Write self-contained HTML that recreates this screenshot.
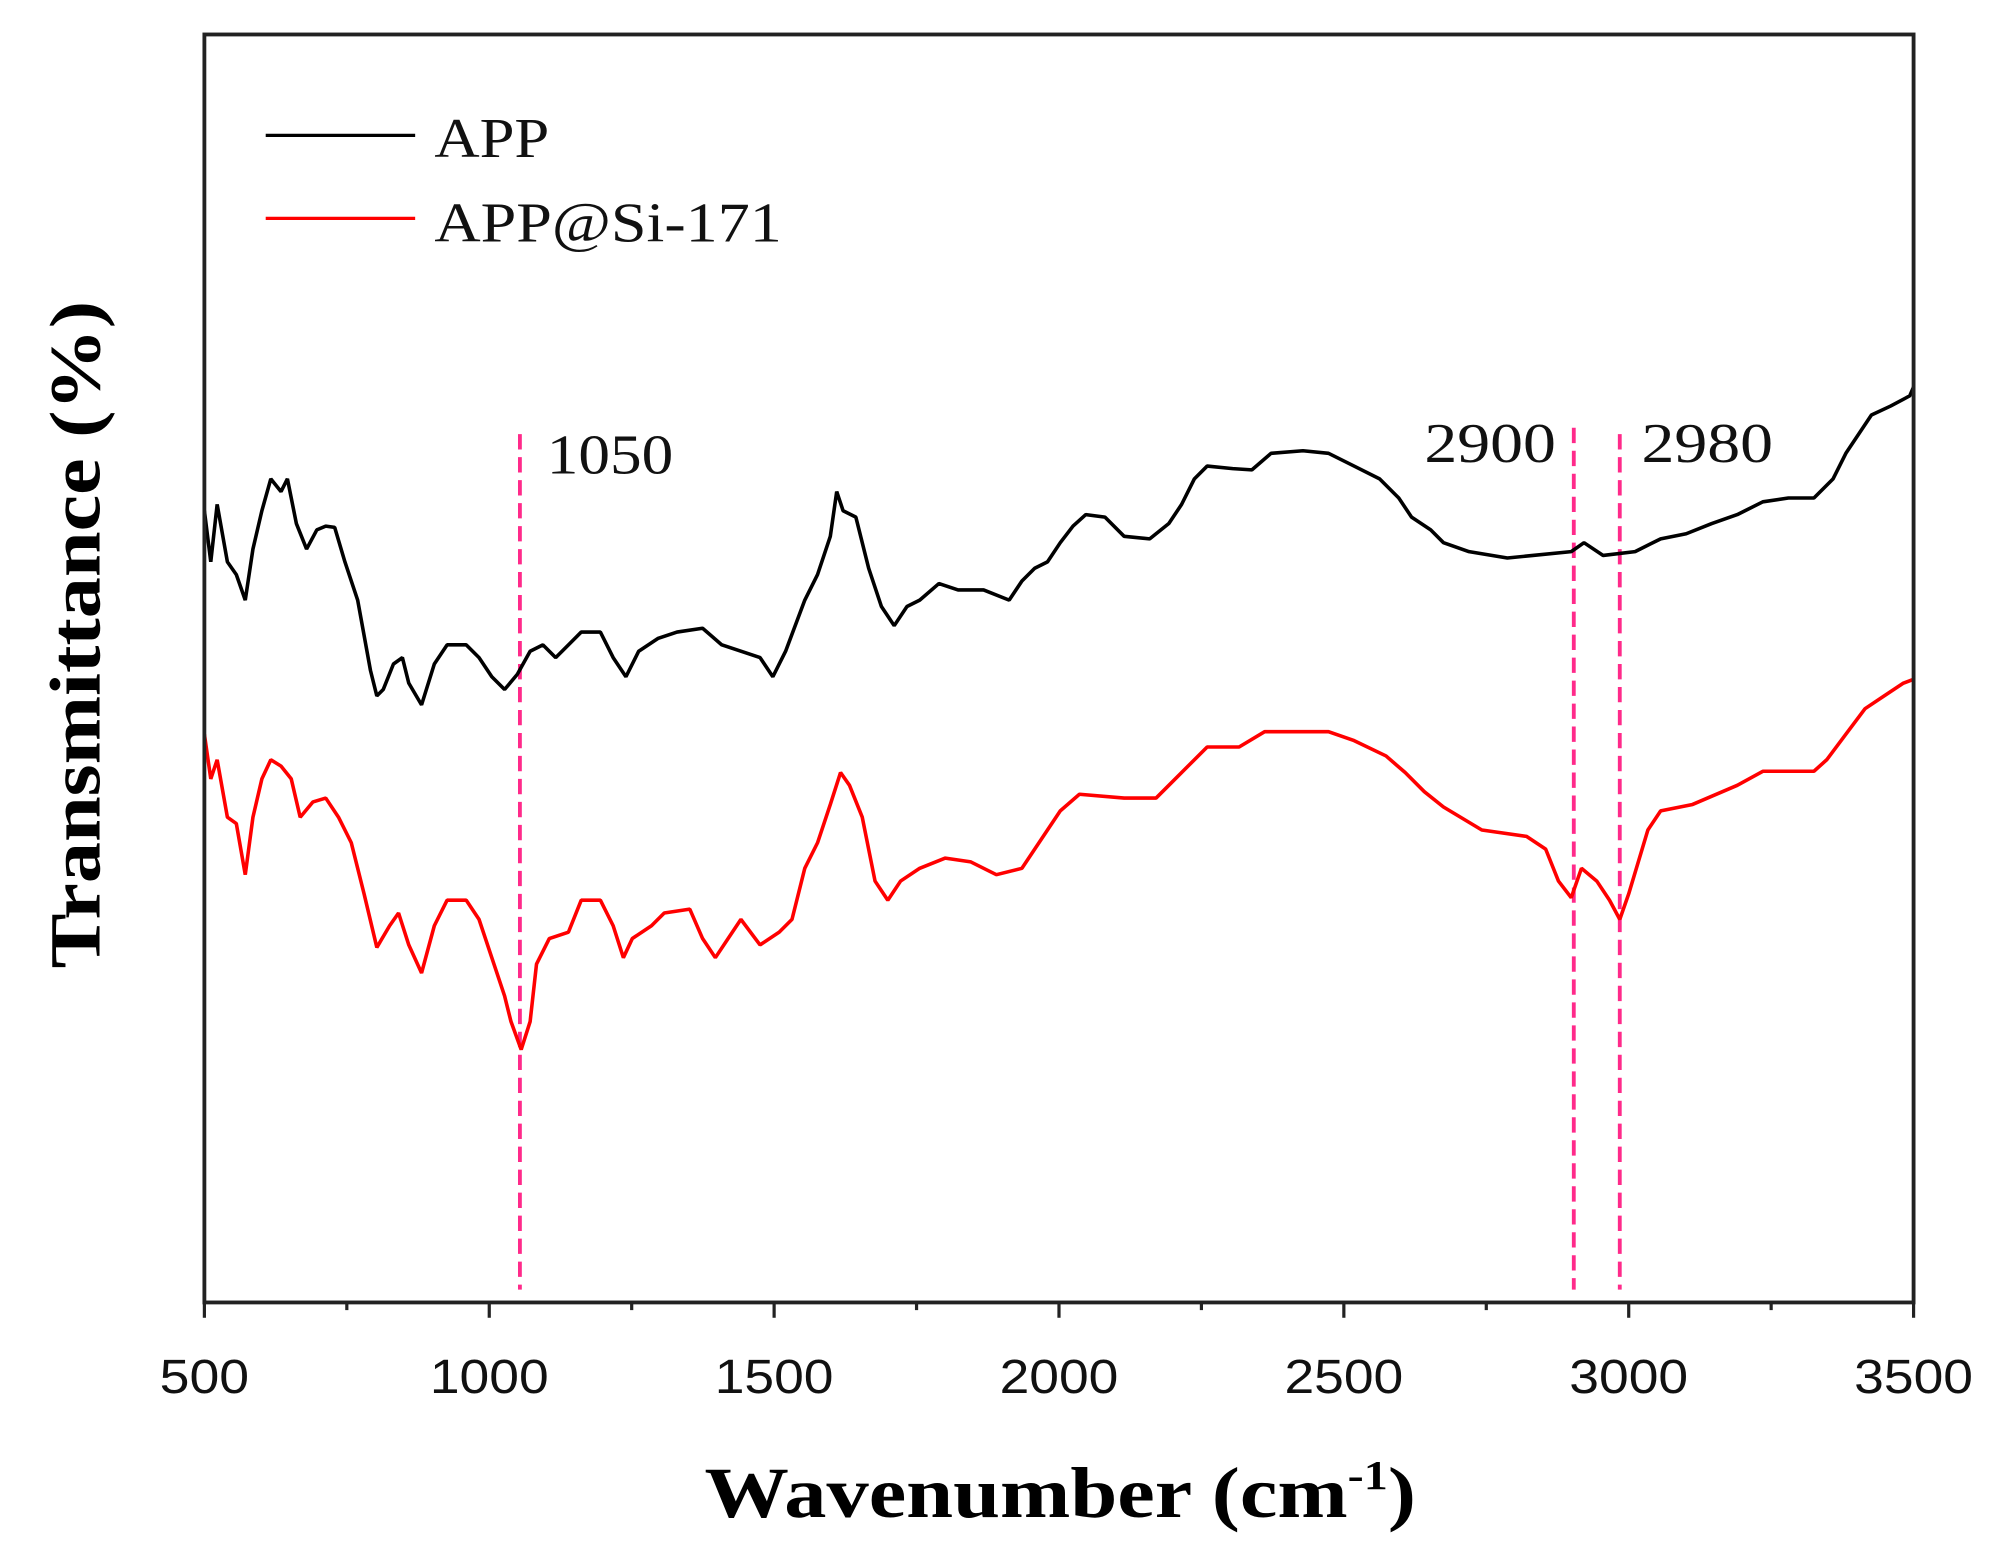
<!DOCTYPE html>
<html><head><style>html,body{margin:0;padding:0;background:#fff}</style></head><body>
<svg width="2003" height="1554" viewBox="0 0 1568 1217" xmlns="http://www.w3.org/2000/svg" preserveAspectRatio="none">
<rect width="1568" height="1217" fill="#fff"/>
<g stroke="#ff2a8a" stroke-width="3" stroke-dasharray="12,6" fill="none">
<line x1="407" y1="340" x2="407" y2="1010"/>
<line x1="1232" y1="335" x2="1232" y2="1010"/>
<line x1="1268" y1="340" x2="1268" y2="1010"/>
</g>
<polyline fill="none" stroke="#000" stroke-width="2.8" stroke-linejoin="bevel" points="160,400 165,440 170,395 178,440 185,450 192,470 198,430 205,400 212,375 220,385 225,375 232,410 240,430 248,415 255,412 262,413 270,440 280,470 290,525 295,545 300,540 308,520 315,515 320,535 330,552 340,520 350,505 365,505 375,515 385,530 395,540 405,528 415,510 425,505 435,515 445,505 455,495 470,495 480,515 490,530 500,510 515,500 530,495 550,492 565,505 580,510 595,515 605,530 615,510 630,470 640,450 650,420 655,385 660,400 670,405 680,445 690,475 700,490 710,475 720,470 735,457 750,462 770,462 790,470 800,455 810,445 820,440 830,425 840,412 850,403 865,405 880,420 900,422 915,410 925,395 935,375 945,365 965,367 980,368 995,355 1020,353 1040,355 1060,365 1080,375 1095,390 1105,405 1120,415 1130,425 1150,432 1180,437 1200,435 1230,432 1240,425 1255,435 1280,432 1300,422 1320,418 1340,410 1360,403 1380,393 1400,390 1420,390 1435,375 1445,355 1455,340 1465,325 1480,318 1495,310 1498,303"/>
<polyline fill="none" stroke="#ff0000" stroke-width="2.8" stroke-linejoin="bevel" points="160,575 165,610 170,595 178,640 185,645 192,685 198,640 205,610 212,595 220,600 228,610 235,640 245,628 255,625 265,640 275,660 285,700 295,742 305,725 312,715 320,740 330,762 340,725 350,705 365,705 375,720 385,750 395,780 400,800 408,822 415,800 420,755 430,735 445,730 455,705 470,705 480,725 488,750 495,735 510,725 520,715 540,712 550,735 560,750 570,735 580,720 595,740 610,730 620,720 630,680 640,660 650,630 658,605 665,615 675,640 685,690 695,705 705,690 720,680 740,672 760,675 780,685 800,680 810,665 820,650 830,635 845,622 880,625 905,625 915,615 930,600 945,585 970,585 990,573 1040,573 1060,580 1085,592 1100,605 1115,620 1130,632 1160,650 1195,655 1210,665 1220,690 1230,703 1238,680 1250,690 1260,705 1268,720 1275,700 1290,650 1300,635 1325,630 1360,615 1380,604 1420,604 1430,595 1445,575 1460,555 1475,545 1490,535 1498,532"/>
<rect x="160" y="27" width="1338" height="993" fill="none" stroke="#222" stroke-width="3"/>
<g stroke="#222" stroke-width="2.5">
<line x1="160" y1="1020" x2="160" y2="1032"/><line x1="383" y1="1020" x2="383" y2="1032"/><line x1="606" y1="1020" x2="606" y2="1032"/><line x1="829" y1="1020" x2="829" y2="1032"/><line x1="1052" y1="1020" x2="1052" y2="1032"/><line x1="1275" y1="1020" x2="1275" y2="1032"/><line x1="1498" y1="1020" x2="1498" y2="1032"/>
<line x1="271.5" y1="1020" x2="271.5" y2="1026"/><line x1="494.5" y1="1020" x2="494.5" y2="1026"/><line x1="717.5" y1="1020" x2="717.5" y2="1026"/><line x1="940.5" y1="1020" x2="940.5" y2="1026"/><line x1="1163.5" y1="1020" x2="1163.5" y2="1026"/><line x1="1386.5" y1="1020" x2="1386.5" y2="1026"/>
</g>
<g font-family="Liberation Sans, sans-serif" font-size="38" fill="#111" text-anchor="middle">
<text x="160" y="1091" textLength="70" lengthAdjust="spacingAndGlyphs">500</text><text x="383" y="1091" textLength="93" lengthAdjust="spacingAndGlyphs">1000</text><text x="606" y="1091" textLength="93" lengthAdjust="spacingAndGlyphs">1500</text><text x="829" y="1091" textLength="93" lengthAdjust="spacingAndGlyphs">2000</text><text x="1052" y="1091" textLength="93" lengthAdjust="spacingAndGlyphs">2500</text><text x="1275" y="1091" textLength="93" lengthAdjust="spacingAndGlyphs">3000</text><text x="1498" y="1091" textLength="93" lengthAdjust="spacingAndGlyphs">3500</text>
</g>
<g transform="translate(830,1188) scale(1.18,1)">
<text x="0" y="0" font-family="Liberation Serif, serif" font-weight="bold" font-size="56" text-anchor="middle" fill="#000">Wavenumber (cm<tspan dy="-22" font-size="32">-1</tspan><tspan dy="22">)</tspan></text>
</g>
<g transform="translate(78,497) rotate(-90) scale(1.15,1)">
<text x="0" y="0" font-family="Liberation Serif, serif" font-weight="bold" font-size="56" text-anchor="middle" fill="#000">Transmittance (%)</text>
</g>
<line x1="208" y1="106" x2="325" y2="106" stroke="#000" stroke-width="2.5"/>
<line x1="208" y1="171" x2="325" y2="171" stroke="#ff0000" stroke-width="2.5"/>
<g font-family="Liberation Serif, serif" font-size="44" fill="#111">
<text x="340" y="123" textLength="90" lengthAdjust="spacingAndGlyphs">APP</text><text x="340" y="189" textLength="272" lengthAdjust="spacingAndGlyphs">APP@Si-171</text>
<text x="428" y="371" textLength="99" lengthAdjust="spacingAndGlyphs">1050</text><text x="1115" y="362" textLength="103" lengthAdjust="spacingAndGlyphs">2900</text><text x="1285" y="362" textLength="103" lengthAdjust="spacingAndGlyphs">2980</text>
</g>
</svg>
</body></html>
